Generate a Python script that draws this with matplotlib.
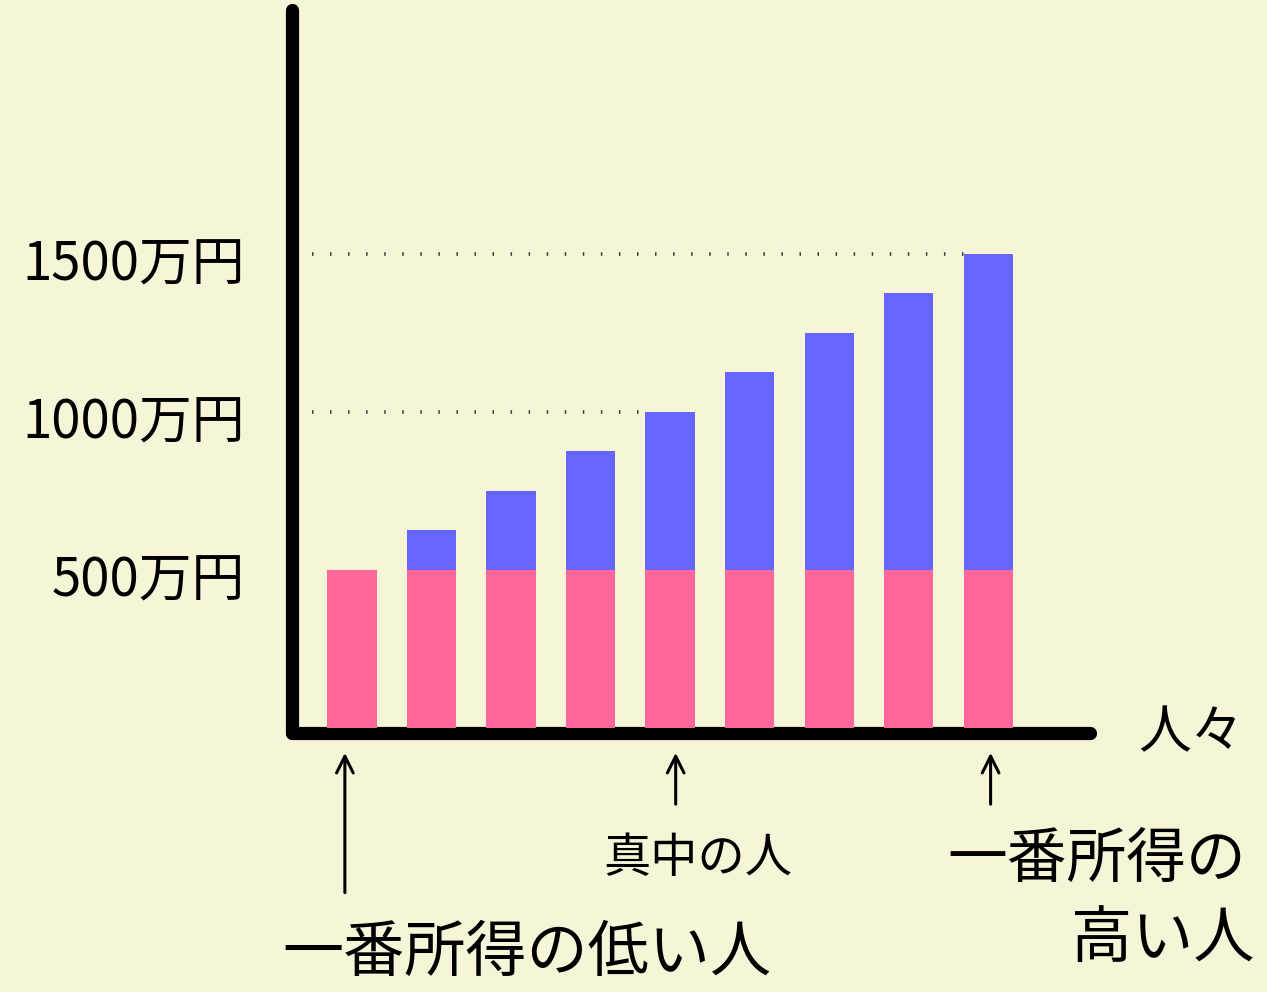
import matplotlib
matplotlib.use("Agg")
import matplotlib.pyplot as plt
import matplotlib.transforms as mtransforms
import numpy as np

# data (万円)
people = list(range(9))
base_income = [500] * 9
total_income = [500, 625, 750, 875, 1000, 1125, 1250, 1375, 1500]
extra_income = [t - b for t, b in zip(total_income, base_income)]
ytick_values = [500, 1000, 1500]
ytick_labels = ["500万円", "1000万円", "1500万円"]
guide_levels = [1000, 1500]

BG = "#F7F5D8"
PINK = "#FF6699"
BLUE = "#6666FF"
FONT = ["Noto Sans CJK JP", "DejaVu Sans"]

plt.rcParams["font.family"] = FONT

W, H = 1267, 992
fig = plt.figure(figsize=(W / 100, H / 100), dpi=100, facecolor=BG)
# axes box in pixel coordinates of the reference
left, right, top, bottom = 292, 1090, 10, 733
ax = fig.add_axes([left / W, 1 - bottom / H, (right - left) / W, (bottom - top) / H])
ax.set_facecolor(BG)

x = np.array(people)
width = 0.62
ax.bar(x, base_income, width, color=PINK, zorder=3)
ax.bar(x, extra_income, width, bottom=base_income, color=BLUE, zorder=3)

xmin, xmax = -0.755, 9.28
ax.set_xlim(xmin, xmax)
ax.set_ylim(-16, 2272)

# dotted guides from the axis to the first bar reaching that level
for level in guide_levels:
    idx = total_income.index(level)
    ax.hlines(level, xmin + 0.25, x[idx] - width / 2, colors="#333333",
              linestyles=(0, (0.4, 4.6)), linewidth=2.6, zorder=2)

for side in ["top", "right"]:
    ax.spines[side].set_visible(False)
for side in ["left", "bottom"]:
    ax.spines[side].set_linewidth(9.5)
    ax.spines[side].set_color("black")
    ax.spines[side].set_capstyle("round")

ax.set_xticks([])
ax.set_yticks(ytick_values)
ax.set_yticklabels(ytick_labels, fontsize=38)
ax.tick_params(axis="y", length=0, pad=34)
shift = mtransforms.ScaledTranslation(0, -8 / 72, fig.dpi_scale_trans)
for lbl in ax.get_yticklabels():
    lbl.set_va("center")
    lbl.set_transform(lbl.get_transform() + shift)

# x axis label
ax.text(1.06, 0.0, "人々", transform=ax.transAxes, fontsize=38,
        ha="left", va="center", clip_on=False)

# arrows and annotations
arrow_kw = dict(arrowstyle="->", color="black", lw=2.2, mutation_scale=30)
ax.annotate("", xy=(-0.09, -70), xytext=(-0.09, -530),
            arrowprops=arrow_kw, annotation_clip=False)
ax.annotate("", xy=(4.07, -70), xytext=(4.07, -250),
            arrowprops=arrow_kw, annotation_clip=False)
ax.annotate("", xy=(8.03, -70), xytext=(8.03, -250),
            arrowprops=arrow_kw, annotation_clip=False)

ax.text(2.2, -715, "一番所得の低い人", fontsize=44, ha="center", va="center",
        clip_on=False)
ax.text(4.35, -415, "真中の人", fontsize=34, ha="center", va="center",
        clip_on=False)
ax.text(9.37, -420, "一番所得の", fontsize=43, ha="center", va="center",
        clip_on=False)
ax.text(10.19, -670, "高い人", fontsize=44, ha="center", va="center",
        clip_on=False)

fig.savefig("out.png", dpi=100, facecolor=BG)
